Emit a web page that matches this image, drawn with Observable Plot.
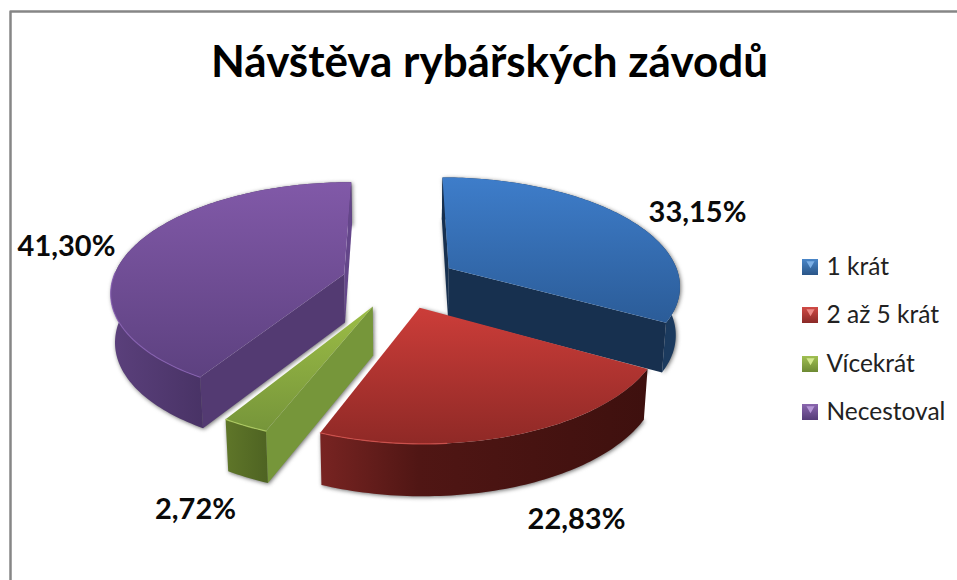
<!DOCTYPE html>
<html lang="cs">
<head>
<meta charset="utf-8">
<title>Návštěva rybářských závodů</title>
<style>html,body{margin:0;padding:0;background:#fff}svg{display:block}</style>
<script src="https://cdn.jsdelivr.net/npm/d3@7"></script>
<script src="https://cdn.jsdelivr.net/npm/@observablehq/plot@0.6"></script>
</head>
<body>
<div id="chart"></div>
<script>
// --- data ---
const titleText = "Návštěva rybářských závodů";
const categories = ["1 krát", "2 až 5 krát", "Vícekrát", "Necestoval"];
const shares = [33.15, 22.83, 2.72, 41.30];

// --- layout of the picture ---
const W = 957, H = 580;
const pieCentre = [399, 281], radius = 232, explode = 58;
const tilt = 0.464, perspective = 0.000632, taper = 0.985;
const labelAt = [[697, 212], [576, 519], [195, 509], [66, 246]];
const legendY = [267, 315, 364, 412];

// --- styles ---
const topStops = [["#3e7dca", "#2b5c98"], ["#cc3d39", "#8f2926"], ["#9cbd46", "#76953a"], ["#8159a8", "#5d4180"]];
const legendFill = [["#4a86c8", "#2a5688"], ["#d04a45", "#8a2a27"], ["#a0bf52", "#6d8a33"], ["#8a66ae", "#553c78"]];
const legendMark = ["#7db0e6", "#ec8a86", "#d3e88e", "#b596d6"];
const cutColor = ["#17304f", "#3f110f", "#76963a", "#533a72"];
const endCutColor = ["#17304f", "#3f110f", "#5c7329", "#64468a"];
const rimStops = [[[0, "#1b3a5e"], [1, "#1b3a5e"]],
                  [[0, "#782422"], [0.3, "#501614"], [1, "#3e100e"]],
                  [[0, "#5f7629"], [1, "#4e6322"]],
                  [[0, "#5b407c"], [0.38, "#493366"], [1, "#493366"]]];
const edgeColor = ["#3f7fca", "#d8534e", "#b5d365", "#8a62b5"];
const edgeSpan = [null, [0.68, 1], [0, 1], [0, 0.4]];

// --- geometry, worked out from the shares ---
const wallHeight = s => 42 + 10 * Math.sqrt(Math.max(0, s - 0.86) / 0.34);
const project = (X, Y, low = false) => {
  const s = 1 / (1 + perspective * Y);
  const t = low ? taper : 1;
  return {x: pieCentre[0] + X * s * t, y: pieCentre[1] - tilt * Y * s + (low ? wallHeight(s) : 0)};
};
let running = 0;
const slices = shares.map((v, i) => {
  const a0 = running / 100 * 2 * Math.PI;
  running += v;
  const a1 = running / 100 * 2 * Math.PI;
  const mid = (a0 + a1) / 2;
  const ox = explode * Math.sin(mid), oy = explode * Math.cos(mid);
  const rimPoint = (a, low) => project(ox + radius * Math.sin(a), oy + radius * Math.cos(a), low);
  const arc = (from, to, low) => {
    const n = Math.max(2, Math.ceil((to - from) / 0.02));
    return d3.range(n + 1).map(k => rimPoint(from + (to - from) * k / n, low));
  };
  return {i, a0, a1, apex: project(ox, oy), apexLow: project(ox, oy, true), rimPoint, arc};
});
const area2 = pts => d3.sum(pts, (p, k) => {
  const q = pts[(k + 1) % pts.length];
  return p.x * q.y - q.x * p.y;
});

// --- gradients ---
const defs = () => {
  const d = d3.create("svg:defs");
  const add = (id, horizontal, stops) => {
    const g = d.append("linearGradient").attr("id", id)
      .attr("x1", 0).attr("y1", 0).attr("x2", horizontal ? 1 : 0).attr("y2", horizontal ? 0 : 1);
    stops.forEach(([o, c]) => g.append("stop").attr("offset", o).attr("stop-color", c));
  };
  topStops.forEach(([a, b], i) => add(`top${i}`, false, [[0, a], [1, b]]));
  legendFill.forEach(([a, b], i) => add(`key${i}`, false, [[0, a], [1, b]]));
  rimStops.forEach((s, i) => add(`rim${i}`, true, s));
  return d.node();
};

// --- marks ---
const poly = (pts, fill, extra = {}) =>
  Plot.line(pts, {x: "x", y: "y", fill, stroke: "none", curve: "linear-closed", ...extra});

// soft shadow beneath the whole pie
const shadows = slices.map(s => poly(
  [s.apex, ...s.arc(s.a0, s.a1, false), ...s.arc(s.a0, s.a1, true).reverse(), s.apexLow],
  "#6e6e6e", {dx: 1, dy: 1, imageFilter: "blur(2px)"}));

const paintOrder = [3, 0, 2, 1];
const faces = paintOrder.flatMap(i => {
  const s = slices[i], out = [];
  const rim = [...s.arc(s.a0, s.a1, false), ...s.arc(s.a0, s.a1, true).reverse()];
  out.push(poly(rim, `url(#rim${i})`));
  const cut0 = [s.apex, s.rimPoint(s.a0, false), s.rimPoint(s.a0, true), s.apexLow];
  const cut1 = [s.apex, s.rimPoint(s.a1, false), s.rimPoint(s.a1, true), s.apexLow];
  if (area2(cut0) < 0) out.push(poly(cut0, cutColor[i]));
  if (area2(cut1) > 0) out.push(poly(cut1, endCutColor[i]));
  out.push(poly([s.apex, ...s.arc(s.a0, s.a1, false)], `url(#top${i})`));
  if (edgeSpan[i]) {
    const [f0, f1] = edgeSpan[i], span = s.a1 - s.a0;
    out.push(Plot.line(s.arc(s.a0 + span * f0, s.a0 + span * f1, false),
      {x: "x", y: "y", stroke: edgeColor[i], strokeWidth: 1.2, strokeOpacity: 0.8}));
  }
  return out;
});

const pct = v => d3.format(".2f")(v).replace(".", ",") + "%";
const valueLabels = Plot.text(shares, {
  x: (d, i) => labelAt[i][0], y: (d, i) => labelAt[i][1], text: d => pct(d),
  fontFamily: "Lato", fontWeight: 700, fontSize: 29, fill: "#0a0a0a"
});

const frame = Plot.line([[10, H], [10, 11], [W, 11]], {stroke: "#868686", strokeWidth: 2.5});

const title = Plot.text([titleText], {
  x: 489, y: 62, text: d => d, fontFamily: "Lato", fontWeight: 700, fontSize: 44, fill: "#000"
});

const legendRows = categories.map((name, i) => ({name, i, y: legendY[i]}));
const legendSwatches = legendRows.map(r => Plot.rect([r], {
  x1: 802, x2: 818, y1: d => d.y - 8, y2: d => d.y + 8,
  fill: `url(#key${r.i})`, stroke: "none"
}));
const legendTicks = legendRows.map(r => Plot.dot([r], {
  x: 810, y: d => d.y - 4, r: 3, symbol: "triangle", rotate: 180,
  fill: legendMark[r.i], stroke: "none"
}));
const legendText = Plot.text(legendRows, {
  x: 826, y: "y", text: "name", textAnchor: "start",
  fontFamily: "Lato", fontSize: 24.5, fill: "#222"
});

const chart = Plot.plot({
  width: W, height: H,
  marginTop: 0, marginRight: 0, marginBottom: 0, marginLeft: 0,
  x: {domain: [0, W], range: [0, W], axis: null},
  y: {domain: [0, H], range: [0, H], axis: null},
  style: {background: "#fff"},
  marks: [defs, frame, ...shadows, ...faces, valueLabels, title, ...legendSwatches, ...legendTicks, legendText]
});
document.getElementById("chart").append(chart);
</script>
</body>
</html>
